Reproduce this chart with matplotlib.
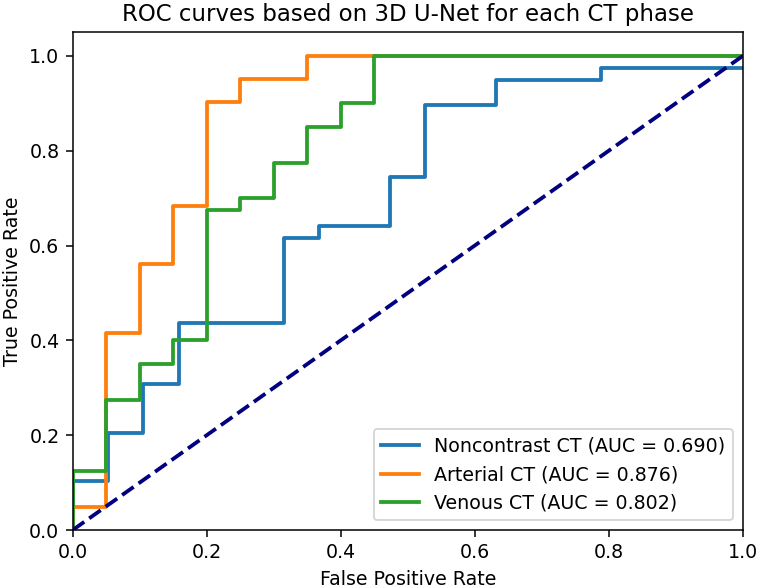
import matplotlib
matplotlib.use("Agg")
import matplotlib.pyplot as plt

# ROC points (fpr, tpr)
noncontrast_fpr = [0, 0, 0.053, 0.053, 0.105, 0.105, 0.158, 0.158, 0.316, 0.316, 0.368, 0.368,
                   0.474, 0.474, 0.526, 0.526, 0.632, 0.632, 0.789, 0.789, 1.0]
noncontrast_tpr = [0, 0.103, 0.103, 0.205, 0.205, 0.308, 0.308, 0.436, 0.436, 0.615, 0.615, 0.641,
                   0.641, 0.744, 0.744, 0.897, 0.897, 0.949, 0.949, 0.974, 0.974]

arterial_fpr = [0, 0, 0.05, 0.05, 0.1, 0.1, 0.15, 0.15, 0.2, 0.2, 0.25, 0.25, 0.35, 0.35, 1.0]
arterial_tpr = [0, 0.049, 0.049, 0.415, 0.415, 0.561, 0.561, 0.683, 0.683, 0.902, 0.902, 0.951,
                0.951, 1.0, 1.0]

venous_fpr = [0, 0, 0.05, 0.05, 0.1, 0.1, 0.15, 0.15, 0.2, 0.2, 0.25, 0.25, 0.3, 0.3, 0.35, 0.35,
              0.4, 0.4, 0.45, 0.45, 1.0]
venous_tpr = [0, 0.125, 0.125, 0.275, 0.275, 0.35, 0.35, 0.4, 0.4, 0.675, 0.675, 0.7, 0.7, 0.775,
              0.775, 0.85, 0.85, 0.9, 0.9, 1.0, 1.0]

labels = ["Noncontrast CT", "Arterial CT", "Venous CT"]
aucs = [0.690, 0.876, 0.802]

DPI = 137
fig = plt.figure(figsize=(760 / DPI, 587 / DPI), dpi=DPI)
ax = fig.add_axes([0.0957, 0.0971, 0.8816, 0.848])

curves = [(noncontrast_fpr, noncontrast_tpr), (arterial_fpr, arterial_tpr), (venous_fpr, venous_tpr)]
for (fpr, tpr), name, auc in zip(curves, labels, aucs):
    ax.plot(fpr, tpr, lw=2, label=f"{name} (AUC = {auc:.3f})")

# chance line
ax.plot([0, 1], [0, 1], color="navy", lw=2, linestyle="--")
ax.set_xlim(0.0, 1.0)
ax.set_ylim(0.0, 1.05)
ax.set_xlabel("False Positive Rate")
ax.set_ylabel("True Positive Rate")
ax.set_title("ROC curves based on 3D U-Net for each CT phase")
ax.legend(loc="lower right")

fig.savefig("out.png", dpi=DPI)
